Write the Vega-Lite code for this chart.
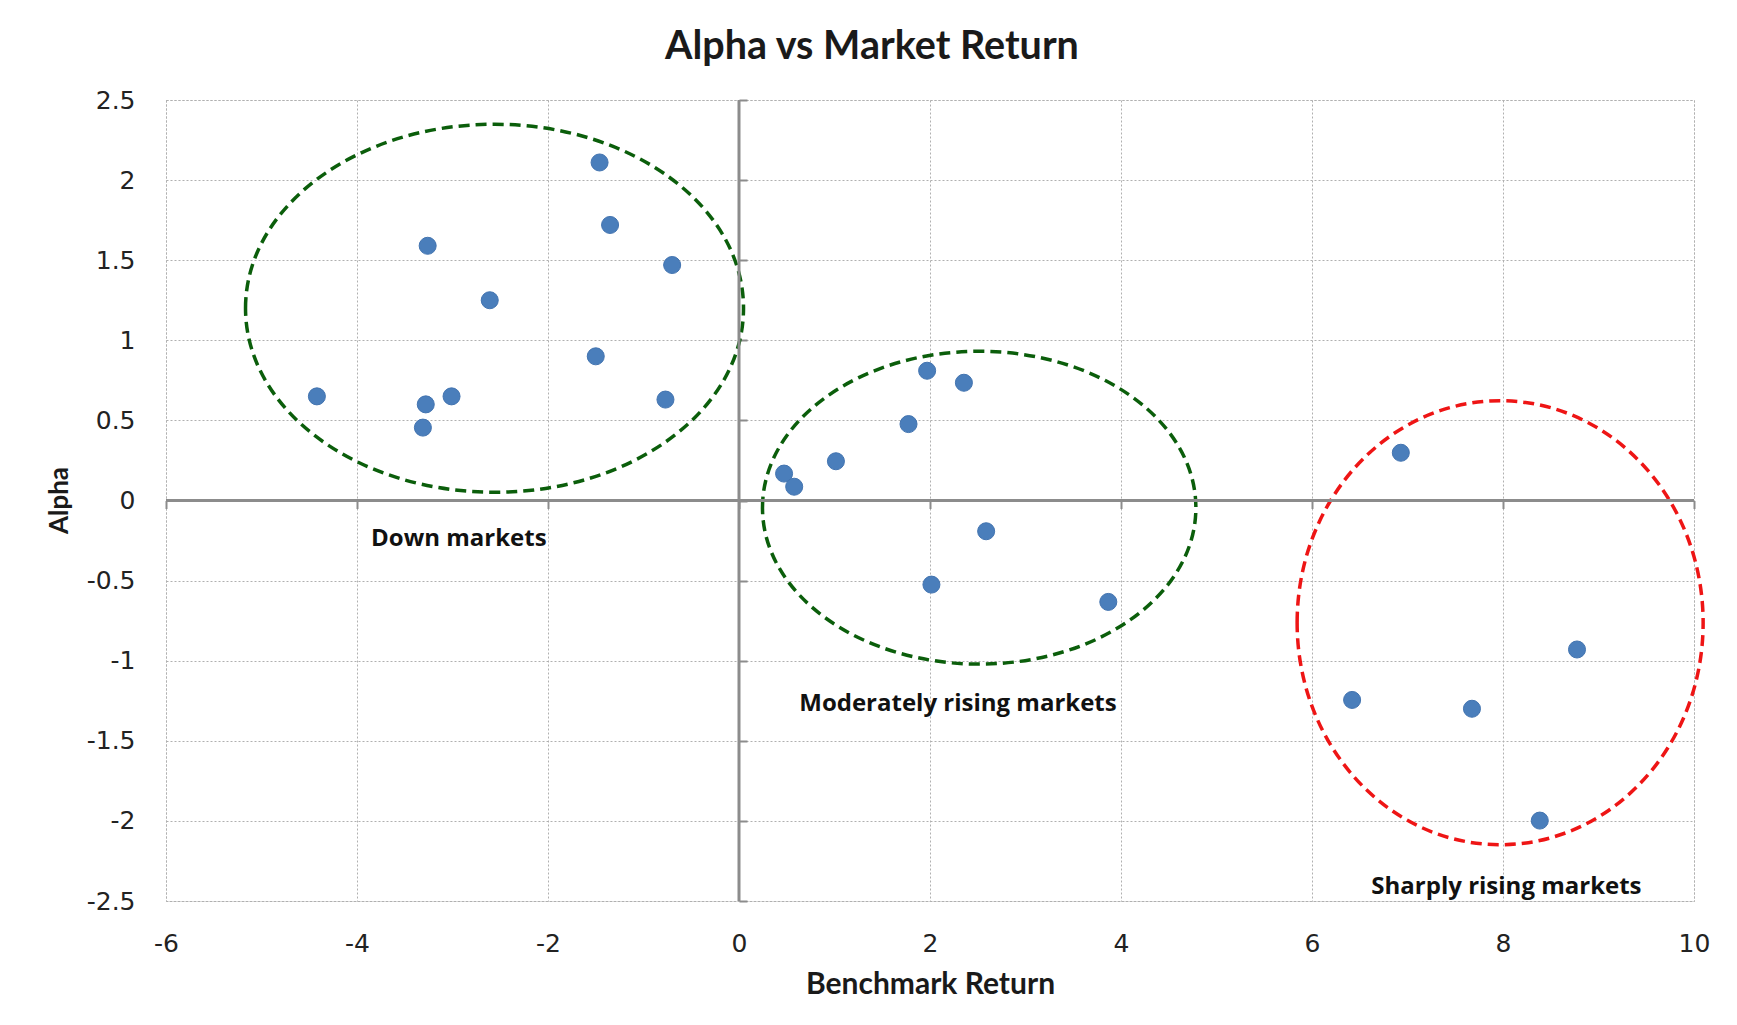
{
  "$schema": "https://vega.github.io/schema/vega-lite/v6.json",
  "width": 1528,
  "height": 801,
  "autosize": {"type": "none"},
  "padding": {"left": 166, "top": 100, "right": 43, "bottom": 124},
  "background": "white",
  "title": {
    "text": "Alpha vs Market Return",
    "font": "Lato",
    "fontSize": 39.5,
    "fontWeight": "bold",
    "color": "#1a1a1a",
    "anchor": "middle",
    "dx": -58,
    "dy": 52,
    "baseline": "alphabetic",
    "offset": 42
  },
  "config": {
    "locale": {"number": {"decimal": ".", "thousands": ",", "grouping": [3], "currency": ["$", ""], "minus": "-"}},
    "view": {"stroke": "#b0b0b0", "strokeDash": [2, 2], "strokeWidth": 1}
  },
  "datasets": {
    "points": [
      {"x": -1.46, "y": 2.11}, {"x": -1.35, "y": 1.72}, {"x": -3.26, "y": 1.59},
      {"x": -0.70, "y": 1.47}, {"x": -2.61, "y": 1.25}, {"x": -1.50, "y": 0.90},
      {"x": -4.42, "y": 0.65}, {"x": -3.01, "y": 0.65}, {"x": -3.28, "y": 0.60},
      {"x": -0.77, "y": 0.63}, {"x": -3.31, "y": 0.455},
      {"x": 1.97, "y": 0.81}, {"x": 2.355, "y": 0.735}, {"x": 1.775, "y": 0.477},
      {"x": 1.015, "y": 0.245}, {"x": 0.472, "y": 0.168}, {"x": 0.578, "y": 0.086},
      {"x": 2.588, "y": -0.192}, {"x": 2.015, "y": -0.525}, {"x": 3.867, "y": -0.633},
      {"x": 6.93, "y": 0.298}, {"x": 8.775, "y": -0.93}, {"x": 6.42, "y": -1.245},
      {"x": 7.675, "y": -1.30}, {"x": 8.385, "y": -1.998}
    ],
    "regions": [
      {"group": "Down", "x": -2.56, "y": 1.20},
      {"group": "Moderate", "x": 2.515, "y": -0.045},
      {"group": "Sharp", "x": 7.97, "y": -0.763}
    ],
    "labels": [
      {"label": "Down markets", "x": -2.934, "y": -0.284},
      {"label": "Moderately rising markets", "x": 2.293, "y": -1.314},
      {"label": "Sharply rising markets", "x": 8.036, "y": -2.454}
    ]
  },
  "resolve": {"axis": {"x": "independent", "y": "independent"}},
  "layer": [
    {
      "encoding": {
        "x": {
          "field": "x", "type": "quantitative",
          "scale": {"domain": [-6, 10], "nice": false, "zero": false},
          "axis": {
            "orient": "bottom",
            "values": [-6, -4, -2, 0, 2, 4, 6, 8, 10],
            "format": "~r",
            "title": "Benchmark Return",
            "titleFont": "Lato", "titleFontSize": 30, "titleFontWeight": "bold", "titleColor": "#1a1a1a",
            "titleBaseline": "alphabetic", "titleY": 92,
            "labelFont": "DejaVu Sans", "labelFontSize": 25, "labelColor": "#222222", "labelPadding": 30,
            "labelFlush": false, "labelOverlap": false,
            "ticks": false, "domain": false,
            "grid": true, "gridColor": "#b0b0b0", "gridDash": [2, 2], "gridWidth": 1
          }
        },
        "y": {
          "field": "y", "type": "quantitative",
          "scale": {"domain": [-2.5, 2.5], "nice": false, "zero": false},
          "axis": {
            "orient": "left",
            "values": [-2.5, -2, -1.5, -1, -0.5, 0, 0.5, 1, 1.5, 2, 2.5],
            "format": "~r",
            "title": "Alpha",
            "titleFont": "Lato", "titleFontSize": 26, "titleFontWeight": "bold", "titleColor": "#1a1a1a",
            "titleAngle": 270, "titleBaseline": "alphabetic", "titleAlign": "center",
            "titleX": -99, "titleY": 400,
            "labelFont": "DejaVu Sans", "labelFontSize": 25, "labelColor": "#222222", "labelPadding": 31,
            "labelFlush": false, "labelOverlap": false,
            "ticks": false, "domain": false,
            "grid": true, "gridColor": "#b0b0b0", "gridDash": [2, 2], "gridWidth": 1
          }
        }
      },
      "layer": [
        {
          "data": {"name": "regions"},
          "mark": {"type": "point", "filled": false, "size": 40000, "strokeWidth": 3.5, "strokeDash": [11, 6], "opacity": 1},
          "encoding": {
            "shape": {
              "field": "group", "type": "nominal", "legend": null,
              "scale": {
                "domain": ["Down", "Moderate", "Sharp"],
                "range": [
                  "M -2.49 0 C -2.49 -1.016 -1.375 -1.84 0 -1.84 C 1.375 -1.84 2.49 -1.016 2.49 0 C 2.49 1.016 1.375 1.84 0 1.84 C -1.375 1.84 -2.49 1.016 -2.49 0 Z",
                  "M -2.167 0 C -2.167 -0.864 -1.197 -1.564 0 -1.564 C 1.197 -1.564 2.167 -0.864 2.167 0 C 2.167 0.864 1.197 1.564 0 1.564 C -1.197 1.564 -2.167 0.864 -2.167 0 Z",
                  "M -2.03 0 C -2.03 -1.226 -1.121 -2.22 0 -2.22 C 1.121 -2.22 2.03 -1.226 2.03 0 C 2.03 1.226 1.121 2.22 0 2.22 C -1.121 2.22 -2.03 1.226 -2.03 0 Z"
                ]
              }
            },
            "stroke": {
              "field": "group", "type": "nominal", "legend": null,
              "scale": {"domain": ["Down", "Moderate", "Sharp"], "range": ["#0b5e0b", "#0b5e0b", "#ee1515"]}
            }
          }
        },
        {
          "data": {"name": "points"},
          "mark": {"type": "point", "filled": true, "shape": "circle", "size": 290, "color": "#4a7ebb", "stroke": "#4374b0", "strokeWidth": 1, "opacity": 1}
        },
        {
          "data": {"name": "labels"},
          "mark": {"type": "text", "font": "Open Sans", "fontSize": 24, "fontWeight": "bold", "color": "#111111", "align": "center", "baseline": "alphabetic"},
          "encoding": {"text": {"field": "label", "type": "nominal"}}
        }
      ]
    },
    {
      "data": {"values": [{}]},
      "layer": [
        {
          "mark": {"type": "rule", "color": "#8c8c8c", "strokeWidth": 3},
          "encoding": {
            "x": {
              "datum": 0, "type": "quantitative",
              "axis": {
                "orient": "bottom", "offset": -400.5, "title": null, "labels": false, "grid": false, "domain": false,
                "ticks": true, "tickSize": 8, "tickColor": "#8c8c8c", "tickWidth": 2,
                "values": [-6, -4, -2, 0, 2, 4, 6, 8, 10]
              }
            }
          }
        },
        {
          "mark": {"type": "rule", "color": "#8c8c8c", "strokeWidth": 3},
          "encoding": {
            "y": {
              "datum": 0, "type": "quantitative",
              "axis": {
                "orient": "right", "offset": -955, "title": null, "labels": false, "grid": false, "domain": false,
                "ticks": true, "tickSize": 8, "tickColor": "#8c8c8c", "tickWidth": 2,
                "values": [-2.5, -2, -1.5, -1, -0.5, 0, 0.5, 1, 1.5, 2, 2.5]
              }
            }
          }
        }
      ]
    }
  ]
}
